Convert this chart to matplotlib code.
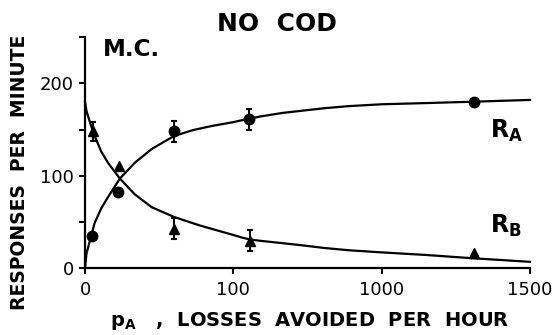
import numpy as np
import matplotlib
matplotlib.use('Agg')
import matplotlib.pyplot as plt
from matplotlib.ticker import FixedLocator, NullFormatter

# x axis is broken into three equal pieces: 0-100, 100-1000, 1000-1500
x_breaks = [0, 100, 1000, 1500]
x_ticks = [0, 100, 1000, 1500]
y_major = [0, 100, 200]
y_minor = [50, 150, 250]

# data points
ra_x = [5, 22, 60, 195, 1310]
ra_y = [35, 82, 148, 161, 180]
ra_err = [0, 0, 11, 11, 0]

rb_x = [5.5, 23, 60, 200, 1310]
rb_y = [148, 111, 43, 30, 17]
rb_err = [10, 0, 11, 11, 0]

# fitted curves as drawn
ra_curve_x = [0, 1, 3.5, 6.5, 11, 15.5, 23.5, 33.5, 45, 60, 73, 86, 100, 150,
              200, 260, 400, 500, 650, 800, 1000, 1150, 1300, 1500]
ra_curve_y = [0, 16, 31, 49, 65, 77, 97, 114, 129, 143, 149.5, 154, 158, 160,
              161.8, 164, 168, 170, 173, 175.3, 177.3, 178.6, 180, 182]

rb_curve_x = [0, 1, 3.5, 6, 11, 15.5, 23.5, 33.5, 45, 60, 77, 100, 150, 200,
              260, 380, 500, 650, 800, 1000, 1150, 1300, 1500]
rb_curve_y = [180, 170, 157, 145, 126, 114, 97, 80, 66, 55.5, 46.5, 36, 33.3, 31.2,
              29.8, 27.5, 25.2, 22, 19.5, 17.2, 14.4, 11, 7]


def fwd(x):
	return np.interp(x, x_breaks, [0, 1, 2, 3])


def inv(u):
	return np.interp(u, [0, 1, 2, 3], x_breaks)


def main():
	fig = plt.figure(figsize=(5.56, 3.35), dpi=100)
	ax = fig.add_axes([0.1529, 0.1991, 0.8004, 0.6904])
	ax.set_xscale('function', functions=(fwd, inv))
	ax.set_xlim(0, 1500)
	ax.set_ylim(0, 250)

	ax.plot(ra_curve_x, ra_curve_y, color='black', lw=1.6, clip_on=False)
	ax.plot(rb_curve_x, rb_curve_y, color='black', lw=1.6, clip_on=False)

	ax.plot(ra_x, ra_y, 'o', color='black', ms=7.5, clip_on=False)
	ax.plot(rb_x, rb_y, '^', color='black', ms=6.5, clip_on=False)

	# error bars only where the figure shows them
	for xs, ys, es in ((ra_x, ra_y, ra_err), (rb_x, rb_y, rb_err)):
		sel = [i for i, e in enumerate(es) if e > 0]
		ax.errorbar([xs[i] for i in sel], [ys[i] for i in sel], yerr=[es[i] for i in sel],
					fmt='none', ecolor='black', elinewidth=1.5, capsize=2.5, capthick=1.5)

	for s in ('top', 'right'):
		ax.spines[s].set_visible(False)
	for s in ('left', 'bottom'):
		ax.spines[s].set_linewidth(1.6)

	ax.xaxis.set_major_locator(FixedLocator(x_ticks))
	ax.xaxis.set_minor_locator(FixedLocator([]))
	ax.set_xticklabels([str(t) for t in x_ticks])
	ax.set_yticks(y_major)
	ax.yaxis.set_minor_locator(FixedLocator(y_minor))
	ax.yaxis.set_minor_formatter(NullFormatter())
	ax.tick_params(axis='both', which='both', direction='out', length=4, width=1.5,
				   labelsize=13, pad=5)
	ax.tick_params(axis='y', which='both', pad=4)

	ax.text(1420, 149, r'$\mathbf{R_A}$', fontsize=17, ha='center', va='center')
	ax.text(1420, 46, r'$\mathbf{R_B}$', fontsize=17, ha='center', va='center')

	fig.text(277 / 556, 1 - 24 / 335, 'NO  COD', fontsize=18, fontweight='bold',
			 ha='center', va='center')
	fig.text(131 / 556, 1 - 50 / 335, 'M.C.', fontsize=16.5, fontweight='bold',
			 ha='center', va='center')
	fig.text(20 / 556, 1 - 172 / 335, 'RESPONSES  PER  MINUTE', fontsize=13.5,
			 fontweight='bold', rotation=90, ha='center', va='center')
	fig.text(310 / 556, 1 - 321 / 335, r'$\mathbf{p_A}$   ,  LOSSES  AVOIDED  PER  HOUR',
			 fontsize=14, fontweight='bold', ha='center', va='center')

	fig.savefig('out.png', dpi=100)


if __name__ == '__main__':
	main()
